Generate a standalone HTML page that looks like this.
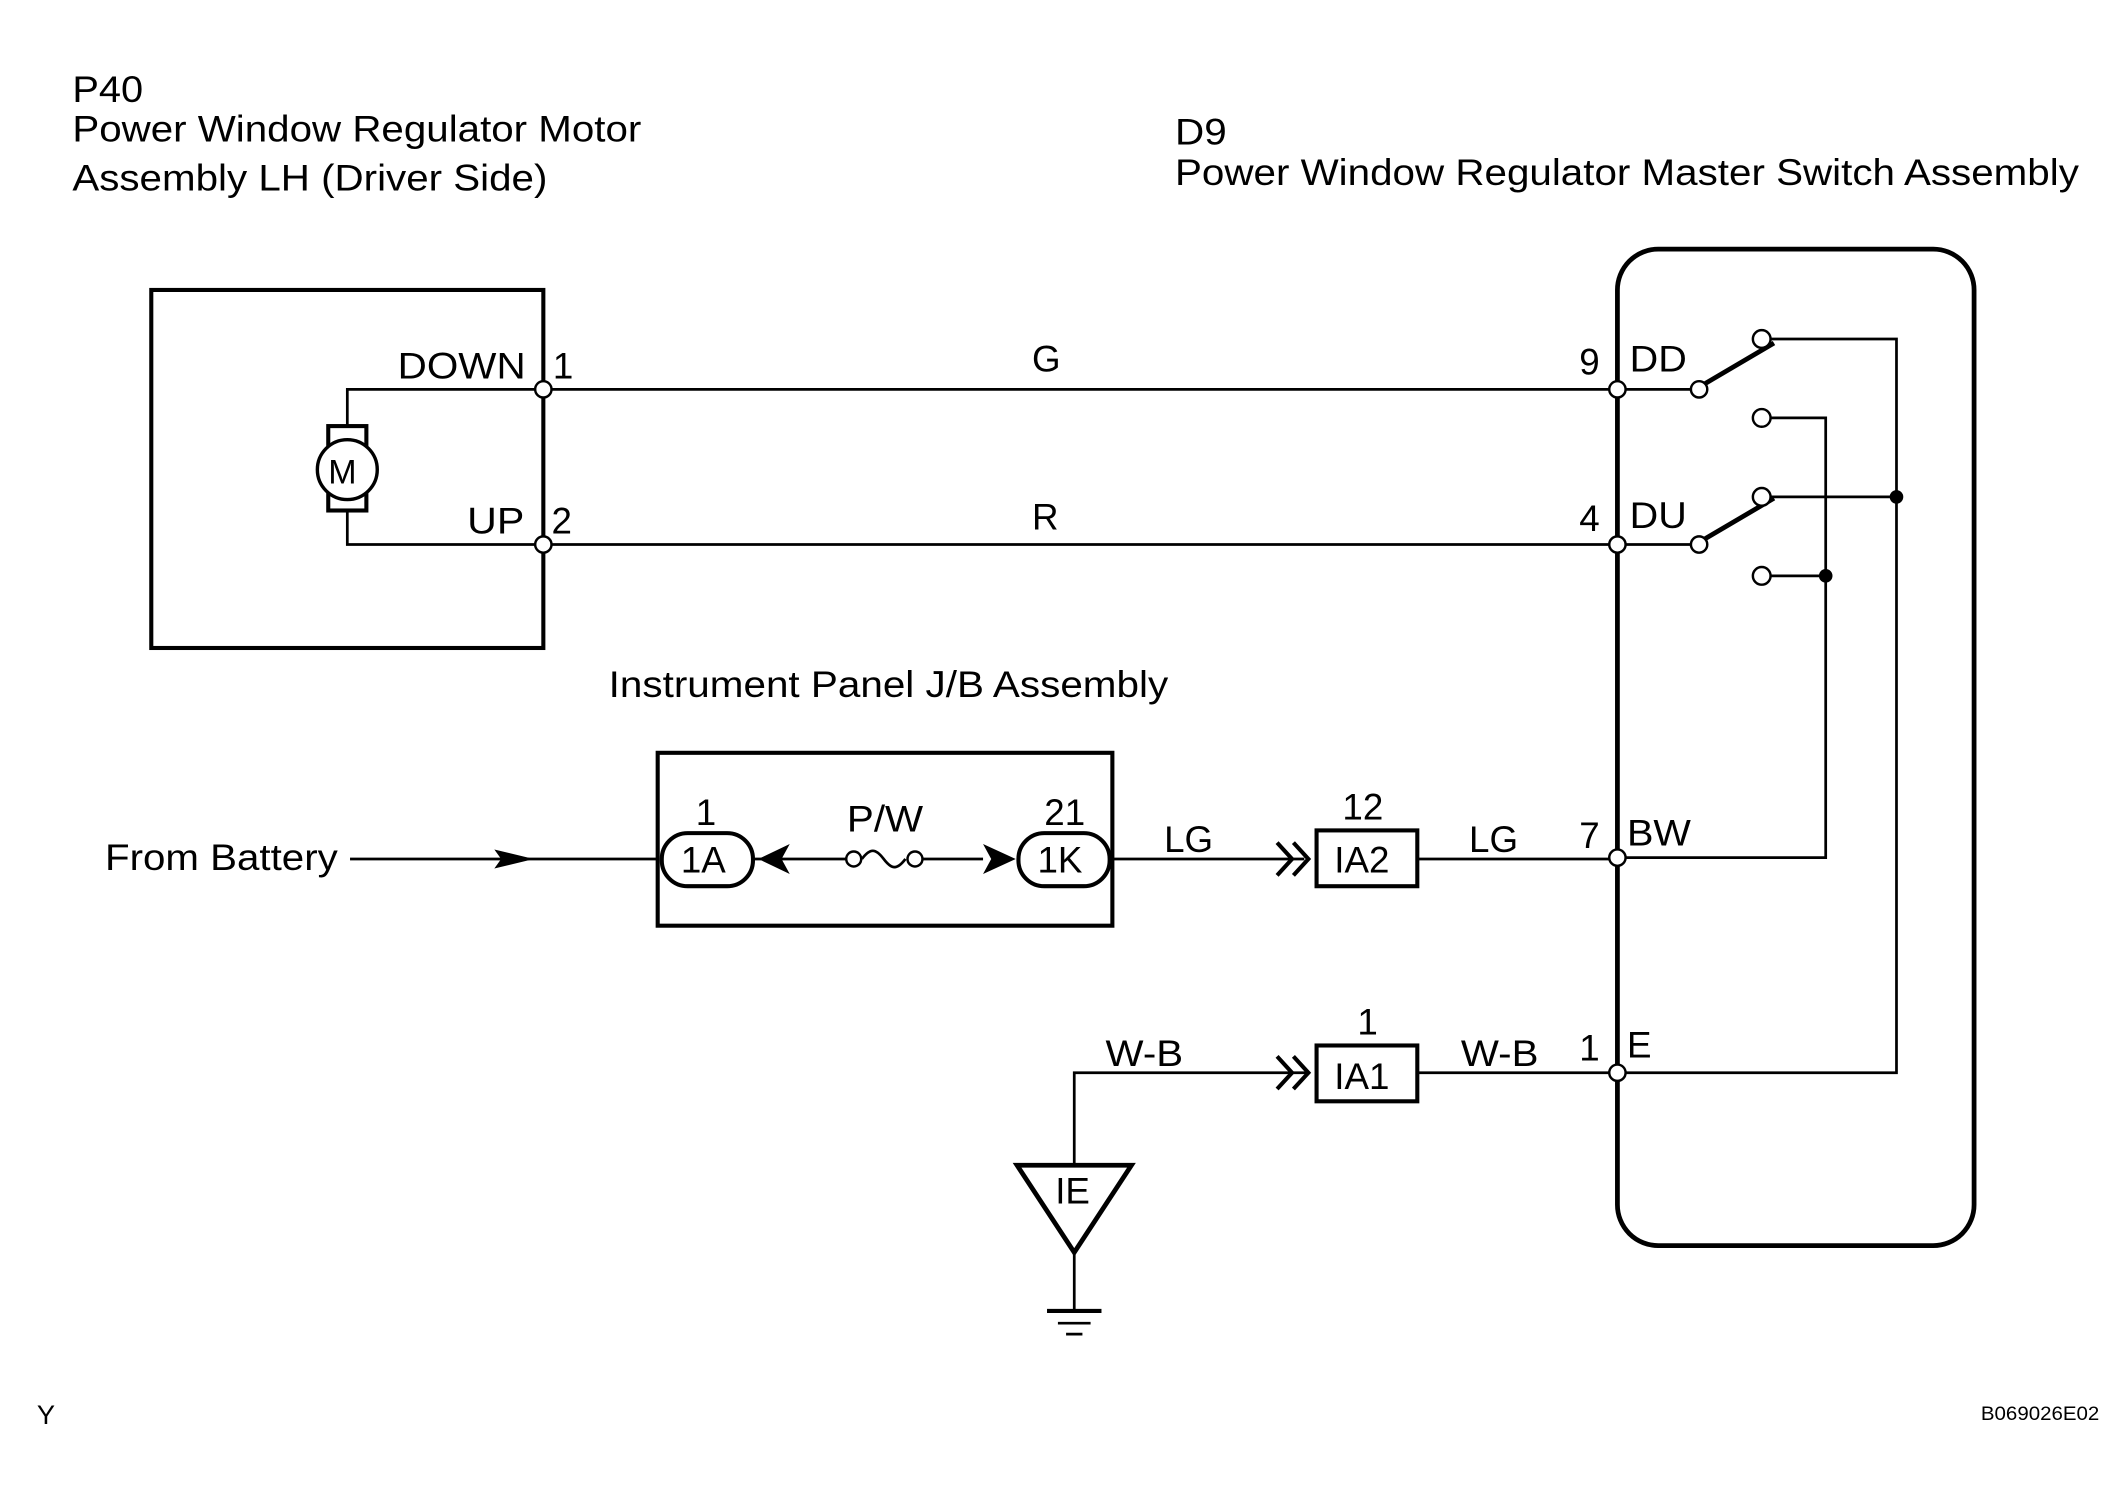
<!DOCTYPE html>
<html><head><style>html,body{margin:0;padding:0;background:#fff}svg{display:block}</style></head>
<body>
<svg width="2124" height="1492" viewBox="0 0 1560 1096" xmlns="http://www.w3.org/2000/svg" font-family="Liberation Sans, sans-serif" fill="#000">
<g fill="none" stroke="#000" stroke-width="2">
<rect x="111" y="213" width="288" height="263" stroke-width="3"/>
<rect x="1188" y="183" width="262" height="732" rx="30" stroke-width="3.5"/>
<rect x="483" y="553" width="334" height="127" stroke-width="3"/>
<path d="M399 286H255V314M255 375V400H399"/>
<rect x="241" y="313" width="28" height="62" stroke-width="3" fill="#fff"/>
<circle cx="255" cy="345" r="22" fill="#fff" stroke-width="2.5"/>
<path d="M399 286H1188M399 400H1188"/>
<path d="M1188 286H1242M1188 400H1242"/>
<path d="M1252 282L1303 252M1252 396L1303 366" stroke-width="3.5"/>
<path d="M1300 249H1393V788H1188M1300 307H1341V630H1188M1300 365H1393M1300 423H1341"/>
<path d="M257 631H483M553 631H621M678 631H722M817 631H958M1041 631H1188"/>
<path d="M633 631c6-8 10-8 16 0s10 8 16 0" stroke-width="2"/>
<rect x="486" y="612" width="67" height="39" rx="19" stroke-width="3"/>
<rect x="748" y="612" width="67" height="39" rx="19" stroke-width="3"/>
<rect x="967" y="610" width="74" height="41" stroke-width="3"/>
<rect x="967" y="768" width="74" height="41" stroke-width="3"/>
<path d="M938 619L949 631L938 643M950 619L961 631L950 643" stroke-width="3"/>
<path d="M938 776L949 788L938 800M950 776L961 788L950 800" stroke-width="3"/>
<path d="M789 855V788H960M1041 788H1188"/>
<path d="M747 856H831L789 920Z" stroke-width="3.5"/>
<path d="M789 920V963"/>
<path d="M769 963H809" stroke-width="3"/><path d="M777 972H801"/><path d="M783 980H795"/>
</g>
<path d="M363 624L392 631L363 638L368 631Z"/>
<path d="M580 620L557 631L580 642L574 631Z"/>
<path d="M722 620L746 631L722 642L728 631Z"/>
<g fill="#fff" stroke="#000" stroke-width="1.8">
<circle cx="399" cy="286" r="6"/><circle cx="399" cy="400" r="6"/>
<circle cx="1188" cy="286" r="6"/><circle cx="1188" cy="400" r="6"/>
<circle cx="1188" cy="630" r="6"/><circle cx="1188" cy="788" r="6"/>
<circle cx="1248" cy="286" r="6"/><circle cx="1248" cy="400" r="6"/>
<circle cx="1294" cy="249" r="6.5"/><circle cx="1294" cy="307" r="6.5"/>
<circle cx="1294" cy="365" r="6.5"/><circle cx="1294" cy="423" r="6.5"/>
<circle cx="627" cy="631" r="5.5"/><circle cx="672" cy="631" r="5.5"/>
</g>
<circle cx="1393" cy="365" r="5"/><circle cx="1341" cy="423" r="5"/>
<g font-size="27" lengthAdjust="spacingAndGlyphs">
<text x="53" y="75" textLength="52" lengthAdjust="spacingAndGlyphs">P40</text>
<text x="53" y="104" textLength="418" lengthAdjust="spacingAndGlyphs">Power Window Regulator Motor</text>
<text x="53" y="140" textLength="349" lengthAdjust="spacingAndGlyphs">Assembly LH (Driver Side)</text>
<text x="863" y="106" textLength="38" lengthAdjust="spacingAndGlyphs">D9</text>
<text x="863" y="136" textLength="664" lengthAdjust="spacingAndGlyphs">Power Window Regulator Master Switch Assembly</text>
<text x="292" y="278" textLength="94" lengthAdjust="spacingAndGlyphs">DOWN</text><text x="406" y="278">1</text>
<text x="343" y="392" textLength="42" lengthAdjust="spacingAndGlyphs">UP</text><text x="405" y="392">2</text>
<text x="758" y="273">G</text><text x="758" y="389">R</text>
<text x="1160" y="275">9</text><text x="1197" y="273" textLength="42" lengthAdjust="spacingAndGlyphs">DD</text>
<text x="1160" y="390">4</text><text x="1197" y="388" textLength="42" lengthAdjust="spacingAndGlyphs">DU</text>
<text x="1160" y="623">7</text><text x="1195" y="621" textLength="47" lengthAdjust="spacingAndGlyphs">BW</text>
<text x="1160" y="779">1</text><text x="1195" y="777">E</text>
<text x="447" y="512" textLength="411" lengthAdjust="spacingAndGlyphs">Instrument Panel J/B Assembly</text>
<text x="77" y="639" textLength="171" lengthAdjust="spacingAndGlyphs">From Battery</text>
<text x="511" y="606">1</text><text x="767" y="606">21</text>
<text x="622" y="611" textLength="56" lengthAdjust="spacingAndGlyphs">P/W</text>
<text x="500" y="641">1A</text><text x="762" y="641">1K</text>
<text x="855" y="626">LG</text><text x="1079" y="626">LG</text>
<text x="986" y="602">12</text>
<text x="980" y="641">IA2</text>
<text x="812" y="783" textLength="57" lengthAdjust="spacingAndGlyphs">W-B</text><text x="1073" y="783" textLength="57" lengthAdjust="spacingAndGlyphs">W-B</text>
<text x="997" y="760">1</text>
<text x="980" y="800">IA1</text>
<text x="775" y="884">IE</text>
<text x="241" y="355" font-size="25">M</text>
</g>
<text x="27" y="1046" font-size="20">Y</text>
<text x="1455" y="1043" font-size="14" textLength="87" lengthAdjust="spacingAndGlyphs">B069026E02</text>
</svg>
</body></html>
